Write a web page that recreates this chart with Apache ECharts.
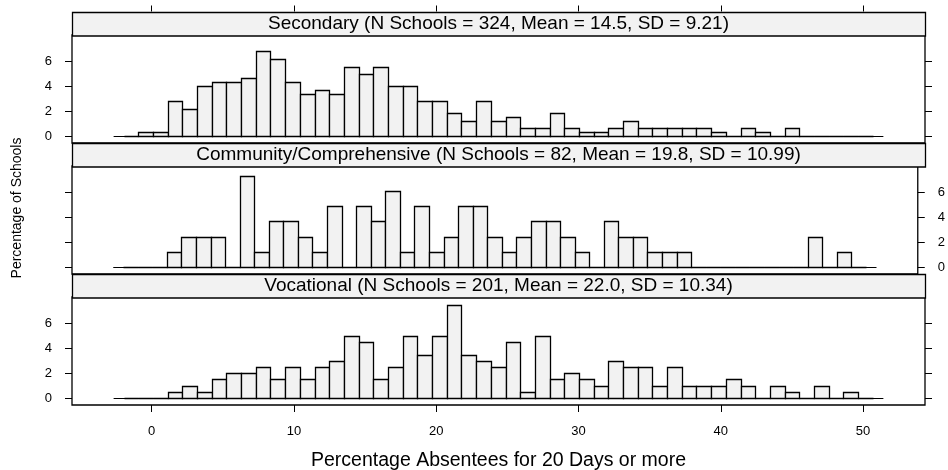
<!DOCTYPE html>
<html><head><meta charset="utf-8">
<script src="https://cdn.jsdelivr.net/npm/echarts@6/dist/echarts.min.js"></script>
<style>html,body{margin:0;padding:0;background:#fff}#c{width:948px;height:470px}</style>
</head><body><div id="c"></div>
<script>
// histogram breaks: 51 equal-width bins
var binStart = -1.98;
var binWidth = 1.0326;
var binCount = 51;
// thin zero line extent (data units)
var zeroLineRange = [-2.68, 51.43];

var panelTitles = [
  'Secondary (N Schools = 324, Mean = 14.5, SD = 9.21)',
  'Community/Comprehensive (N Schools = 82, Mean = 19.8, SD = 10.99)',
  'Vocational (N Schools = 201, Mean = 22.0, SD = 10.34)'
];
var panelN = [324, 82, 201];
// counts of schools per bin
var secondaryCounts = [0,1,1,9,7,13,14,14,15,22,20,14,11,12,11,18,16,18,13,13,9,9,6,4,9,4,5,2,2,6,2,1,1,2,4,2,2,2,2,2,1,0,2,1,0,2,0,0,0,0,0];
var communityCounts = [0,0,0,1,2,2,2,0,6,1,3,3,2,1,4,0,4,3,5,1,4,1,2,4,4,2,1,2,3,3,2,1,0,3,2,2,1,1,1,0,0,0,0,0,0,0,0,2,0,1,0];
var vocationalCounts = [0,0,0,1,2,1,3,4,4,5,3,5,3,5,6,10,9,3,5,10,7,10,15,7,6,5,9,1,10,3,4,3,2,6,5,5,2,5,2,2,2,3,2,0,2,1,0,2,0,1,0];

var xTicks = [0, 10, 20, 30, 40, 50];
var yTicks = [0, 2, 4, 6];
var xRange = [-5.605, 54.355];
var yRange = [-0.552, 8.08];
var xTitle = 'Percentage Absentees for 20 Days or more';
var yTitle = 'Percentage of Schools';

var FONT = 'Liberation Sans';
var L = 72, W = 853;
var gridTops = [35, 166, 297];
var gridH = 108;
var stripH = 23.5;
var stripFont = 19;
var xTitleFont = 19.5;
var yTitleFont = 14;

function binData(counts, n) {
  var out = [];
  for (var k = 0; k < binCount; k++) {
    var a = binStart + k * binWidth;
    out.push([a, a + binWidth, counts[k] / n * 100]);
  }
  return out;
}
var allCounts = [secondaryCounts, communityCounts, vocationalCounts];

function renderBin(params, api) {
  var p0 = api.coord([api.value(0), 0]);
  var p1 = api.coord([api.value(1), api.value(2)]);
  var x0 = Math.round(p0[0]) + 0.5, x1 = Math.round(p1[0]) + 0.5;
  var y0 = Math.round(p0[1]) + 0.5, y1 = Math.round(p1[1]) + 0.5;
  return {type: 'rect', shape: {x: x0, y: y1, width: x1 - x0, height: y0 - y1},
    style: {fill: '#f2f2f2', stroke: '#000', lineWidth: 1.3}};
}
function renderZero(params, api) {
  var p0 = api.coord([api.value(0), 0]);
  var p1 = api.coord([api.value(1), 0]);
  var y = Math.round(p0[1]) + 0.5;
  return {type: 'line', shape: {x1: p0[0], y1: y, x2: p1[0], y2: y},
    style: {stroke: '#000', lineWidth: 1}};
}

var tickStyle = {color: '#000', width: 1};
var grids = [], xAxes = [], yAxes = [], series = [], graphics = [];
for (var g = 0; g < 3; g++) {
  grids.push({left: L, top: gridTops[g], width: W, height: gridH, show: true,
    borderColor: '#000', borderWidth: 1.3, backgroundColor: 'transparent', containLabel: false});
  var xa = {type: 'value', gridIndex: g, min: xRange[0], max: xRange[1],
    axisLine: {show: false, onZero: false}, splitLine: {show: false},
    axisTick: {show: false}, axisLabel: {show: false}};
  if (g === 0) {
    xa.position = 'top'; xa.offset = stripH;
    xa.axisTick = {show: true, customValues: xTicks, length: 6, lineStyle: tickStyle};
  }
  if (g === 2) {
    xa.position = 'bottom';
    xa.axisTick = {show: true, customValues: xTicks, length: 7, lineStyle: tickStyle};
    xa.axisLabel = {show: true, customValues: xTicks, margin: 20, color: '#000', fontSize: 13, fontFamily: FONT};
  }
  xAxes.push(xa);
  var showLeft = (g !== 1), showRight = (g === 1);
  yAxes.push({type: 'value', gridIndex: g, position: 'left', min: yRange[0], max: yRange[1],
    axisLine: {show: false, onZero: false}, splitLine: {show: false},
    axisTick: {show: true, customValues: yTicks, length: 7, lineStyle: tickStyle},
    axisLabel: {show: showLeft, customValues: yTicks, margin: 20, color: '#000', fontSize: 13, fontFamily: FONT}});
  yAxes.push({type: 'value', gridIndex: g, position: 'right', min: yRange[0], max: yRange[1],
    axisLine: {show: false, onZero: false}, splitLine: {show: false},
    axisTick: {show: true, customValues: yTicks, length: 7, lineStyle: tickStyle},
    axisLabel: {show: showRight, customValues: yTicks, margin: 20, color: '#000', fontSize: 13, fontFamily: FONT}});
  series.push({type: 'custom', xAxisIndex: g, yAxisIndex: 2 * g, renderItem: renderZero,
    data: [[zeroLineRange[0], zeroLineRange[1]]], silent: true, z: 1});
  series.push({type: 'custom', xAxisIndex: g, yAxisIndex: 2 * g, renderItem: renderBin,
    data: binData(allCounts[g], panelN[g]), silent: true, z: 2});
  var sy = gridTops[g] - stripH;
  graphics.push({type: 'rect', shape: {x: L + 0.5, y: Math.round(sy) + 0.5, width: W, height: stripH},
    style: {fill: '#f2f2f2', stroke: '#000', lineWidth: 1.3}, z: 10});
  graphics.push({type: 'text', x: L + W / 2, y: sy + stripH / 2 + 1,
    style: {text: panelTitles[g], font: stripFont + 'px "' + FONT + '"', fill: '#000', align: 'center', verticalAlign: 'middle'}, z: 11});
}
graphics.push({type: 'text', x: L + W / 2, y: 461,
  style: {text: xTitle, font: xTitleFont + 'px "' + FONT + '"', fill: '#000', align: 'center', verticalAlign: 'middle'}, z: 11});
graphics.push({type: 'text', x: 17, y: 208, rotation: Math.PI / 2,
  style: {text: yTitle, font: yTitleFont + 'px "' + FONT + '"', fill: '#000', align: 'center', verticalAlign: 'middle'}, z: 11});

var chart = echarts.init(document.getElementById('c'), null, {renderer: 'canvas'});
chart.setOption({
  animation: false,
  backgroundColor: '#fff',
  grid: grids, xAxis: xAxes, yAxis: yAxes, series: series, graphic: graphics
});
</script></body></html>
